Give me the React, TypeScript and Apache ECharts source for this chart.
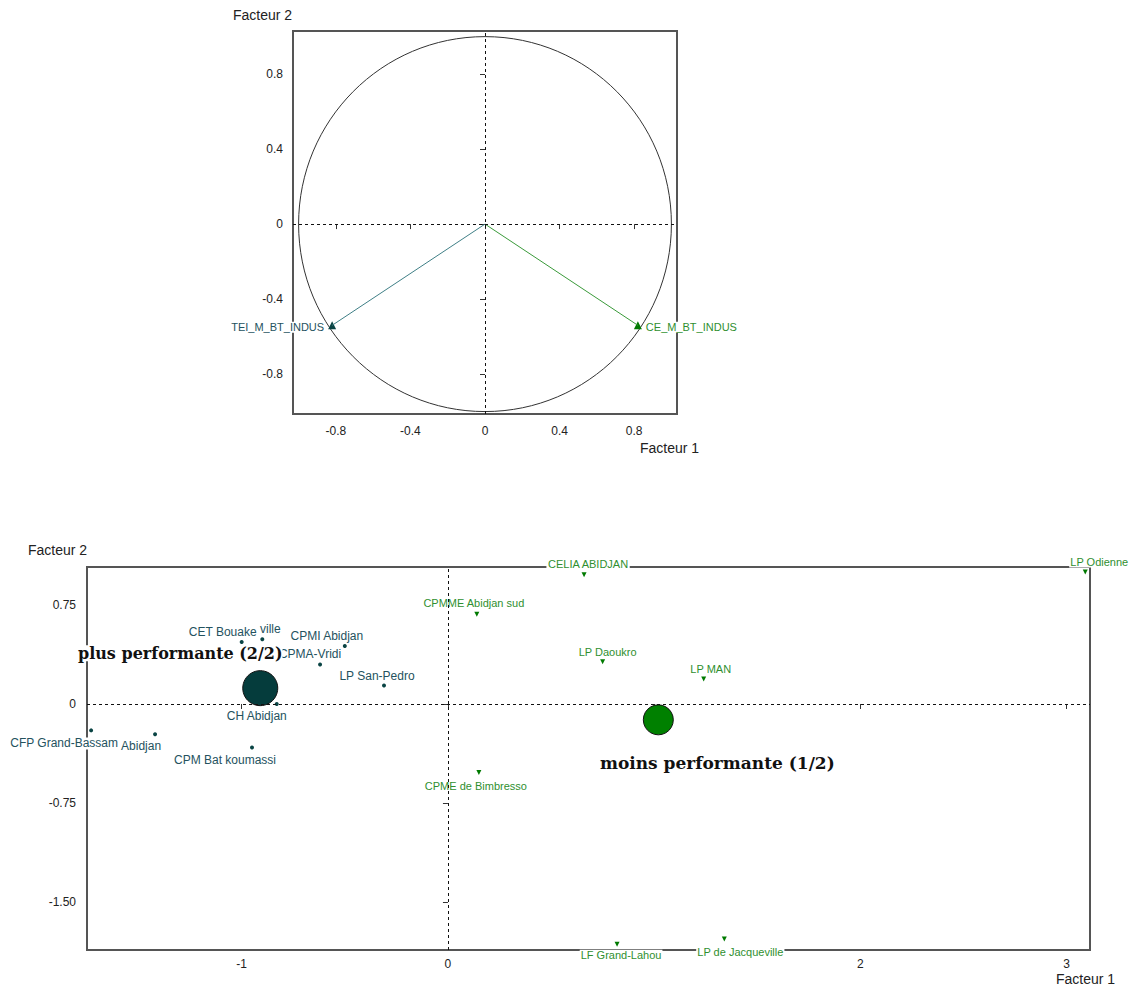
import React, { useEffect, useRef } from "react";
import * as echarts from "echarts";

// ---- Data: correlation circle (variables) ----
const varNames = ["TEI_M_BT_INDUS", "CE_M_BT_INDUS"];
const varF1 = [-0.82, 0.82];
const varF2 = [-0.54, -0.54];

// ---- Data: class 2 (plus performante) individuals ----
const class2Names = ["CFP Grand-Bassam", "Abidjan", "CPM Bat koumassi", "CH Abidjan", "CET Bouake", "ville", "CPMI Abidjan", "CPMA-Vridi", "LP San-Pedro"];
const class2F1 = [-1.73, -1.42, -0.95, -0.83, -1.0, -0.9, -0.5, -0.62, -0.31];
const class2F2 = [-0.2, -0.23, -0.33, 0.0, 0.47, 0.49, 0.44, 0.3, 0.14];

// ---- Data: class 1 (moins performante) individuals ----
const class1Names = ["CELIA ABIDJAN", "CPMME Abidjan sud", "LP Daoukro", "LP MAN", "LP Odienne", "CPME de Bimbresso", "LF Grand-Lahou", "LP de Jacqueville"];
const class1F1 = [0.66, 0.14, 0.75, 1.24, 3.09, 0.15, 0.82, 1.34];
const class1F2 = [0.98, 0.68, 0.32, 0.19, 1.0, -0.52, -1.82, -1.78];

// ---- Data: class centroids ----
const centroidNames = ["moins performante (1/2)", "plus performante (2/2)"];
const centroidF1 = [1.02, -0.91];
const centroidF2 = [-0.12, 0.12];

// ---- Tick values ----
const topTicks = [-0.8, -0.4, 0, 0.4, 0.8];
const bottomXTicks = [-1, 0, 1, 2, 3];
const bottomXTickLabels = [-1, 0, 2, 3]; // "1" is hidden under a point label in the reference
const bottomYTicks = [-1.5, -0.75, 0, 0.75];

// ---- Label placement (style only): offset from point to label centre ----
const labelOffsets: Record<string, [number, number]> = {
  "CFP Grand-Bassam": [-27, 13],
  "Abidjan": [-14, 12],
  "CPM Bat koumassi": [-27, 12],
  "CH Abidjan": [-20, 12],
  "CET Bouake": [-19, -10],
  "ville": [8, -10],
  "CPMI Abidjan": [-18, -10],
  "CPMA-Vridi": [-10, -10],
  "LP San-Pedro": [-7, -10],
  "CELIA ABIDJAN": [4, -11],
  "CPMME Abidjan sud": [-3, -11],
  "LP Daoukro": [5, -10],
  "LP MAN": [7, -10],
  "LP Odienne": [14, -10],
  "CPME de Bimbresso": [-3, 13],
  "LF Grand-Lahou": [4, 11],
  "LP de Jacqueville": [16, 13],
  "moins performante (1/2)": [59, 43],
  "plus performante (2/2)": [-80, -35],
};

const FONT = "'Liberation Sans', Arial, sans-serif";
const DARK = "#0a4444";
const DARK_TEXT = "#24525e";
const GREEN = "#007a00";
const GREEN_TEXT = "#2f8f2f";

function pointItems(names: string[], xs: number[], ys: number[], color: string, fontSize: number) {
  return names.map((n, i) => ({
    name: n,
    value: [xs[i], ys[i]],
    label: {
      show: true,
      position: "inside",
      offset: labelOffsets[n] || [0, -10],
      formatter: "{b}",
      color,
      fontSize,
      fontFamily: FONT,
      backgroundColor: "#fff",
      padding: [0, 1],
      textBorderWidth: 0,
    },
  }));
}

export default function App() {
  const ref = useRef<HTMLDivElement>(null);
  useEffect(() => {
    if (!ref.current) return;
    const chart = echarts.init(ref.current, undefined, { renderer: "svg" });
    const axisLabelStyle = { color: "#222", fontSize: 12, fontFamily: FONT };
    const zeroLine = {
      silent: true,
      symbol: "none",
      label: { show: false },
      lineStyle: { type: [3, 3], color: "#111", width: 1 },
      data: [{ xAxis: 0 }, { yAxis: 0 }],
    };
    const fmt1 = (v: number) => (Math.abs(v) < 1e-9 ? "0" : v.toFixed(1));
    const fmt2 = (v: number) => (Math.abs(v) < 1e-9 ? "0" : v.toFixed(2));

    const option: any = {
      animation: false,
      grid: [
        { left: 293, top: 31, width: 384, height: 383, show: true, borderColor: "#555", borderWidth: 2, backgroundColor: "transparent" },
        { left: 87, top: 567, width: 1003, height: 383, show: true, borderColor: "#555", borderWidth: 2, backgroundColor: "transparent" },
      ],
      xAxis: [
        {
          gridIndex: 0, type: "value", min: -1.03, max: 1.03,
          splitLine: { show: false }, axisLine: { show: false },
          axisTick: { show: true, length: 5, customValues: topTicks, lineStyle: { color: "#333" } },
          axisLabel: { ...axisLabelStyle, margin: 11, customValues: topTicks, formatter: fmt1 },
        },
        {
          gridIndex: 1, type: "value", min: -1.75, max: 3.113,
          splitLine: { show: false }, axisLine: { show: false },
          axisTick: { show: true, length: 5, customValues: bottomXTicks, lineStyle: { color: "#333" } },
          axisLabel: { ...axisLabelStyle, margin: 8, customValues: bottomXTickLabels, formatter: (v: number) => String(v) },
        },
      ],
      yAxis: [
        {
          gridIndex: 0, type: "value", min: -1.013, max: 1.03,
          splitLine: { show: false }, axisLine: { show: false },
          axisTick: { show: true, length: 5, customValues: topTicks, lineStyle: { color: "#333" } },
          axisLabel: { ...axisLabelStyle, margin: 10, customValues: topTicks, formatter: fmt1 },
        },
        {
          gridIndex: 1, type: "value", min: -1.864, max: 1.038,
          splitLine: { show: false }, axisLine: { show: false },
          axisTick: { show: true, length: 5, customValues: bottomYTicks, lineStyle: { color: "#333" } },
          axisLabel: { ...axisLabelStyle, margin: 11, customValues: bottomYTicks, formatter: fmt2 },
        },
      ],
      graphic: [
        { type: "text", left: 233, top: 8, style: { text: "Facteur 2", font: `14px ${FONT}`, fill: "#222" } },
        { type: "text", left: 640, top: 441, style: { text: "Facteur 1", font: `14px ${FONT}`, fill: "#222" } },
        { type: "text", left: 28, top: 543, style: { text: "Facteur 2", font: `14px ${FONT}`, fill: "#222" } },
        { type: "text", left: 1056, top: 972, style: { text: "Facteur 1", font: `14px ${FONT}`, fill: "#222" } },
      ],
      series: [
        // unit circle (radius 1 around origin) drawn through the axis scales
        {
          type: "custom",
          xAxisIndex: 0, yAxisIndex: 0,
          data: [[0, 0, 1]],
          silent: true,
          renderItem: (_params: any, api: any) => {
            const r = api.value(2);
            const c = api.coord([api.value(0), api.value(1)]);
            const e = api.coord([api.value(0) + r, api.value(1) + r]);
            return {
              type: "ellipse",
              shape: { cx: c[0], cy: c[1], rx: Math.abs(e[0] - c[0]), ry: Math.abs(e[1] - c[1]) },
              style: { fill: "none", stroke: "#333", lineWidth: 1 },
            };
          },
          markLine: zeroLine,
        },
        // vectors
        ...varNames.map((n, i) => ({
          type: "line",
          name: n,
          xAxisIndex: 0, yAxisIndex: 0,
          symbol: "none",
          data: [[0, 0], [varF1[i], varF2[i]]],
          lineStyle: { color: i === 0 ? "#3f7f86" : "#3a9a3a", width: 1 },
          silent: true,
        })),
        {
          type: "scatter",
          xAxisIndex: 0, yAxisIndex: 0,
          symbol: "triangle",
          symbolSize: 8,
          data: varNames.map((n, i) => ({
            name: n,
            value: [varF1[i], varF2[i]],
            itemStyle: { color: i === 0 ? DARK : GREEN, opacity: 1 },
            label: {
              show: true,
              position: i === 0 ? "left" : "right",
              distance: 4,
              offset: [0, 2],
              formatter: "{b}",
              color: i === 0 ? DARK_TEXT : GREEN_TEXT,
              fontSize: 11,
              fontFamily: FONT,
              backgroundColor: "#fff",
            },
          })),
        },
        // bottom plane: class 2 individuals
        {
          type: "scatter",
          xAxisIndex: 1, yAxisIndex: 1,
          symbol: "circle",
          symbolSize: 4,
          itemStyle: { color: DARK, opacity: 1 },
          data: pointItems(class2Names, class2F1, class2F2, DARK_TEXT, 12),
          markLine: zeroLine,
        },
        // class 1 individuals
        {
          type: "scatter",
          xAxisIndex: 1, yAxisIndex: 1,
          symbol: "triangle",
          symbolRotate: 180,
          symbolSize: 5,
          itemStyle: { color: GREEN, opacity: 1 },
          data: pointItems(class1Names, class1F1, class1F2, GREEN_TEXT, 11),
        },
        // centroids
        {
          type: "scatter",
          xAxisIndex: 1, yAxisIndex: 1,
          symbol: "circle",
          data: centroidNames.map((n, i) => ({
            name: n,
            value: [centroidF1[i], centroidF2[i]],
            symbolSize: i === 0 ? 30 : 35,
            itemStyle: { color: i === 0 ? "#008000" : "#053c3c", borderColor: "#111", borderWidth: 1, opacity: 1 },
            label: {
              show: true,
              position: "inside",
              offset: labelOffsets[n],
              formatter: "{b}",
              color: "#111",
              fontSize: i === 0 ? 17 : 16,
              fontWeight: "bold",
              fontFamily: "'DejaVu Serif', serif",
              backgroundColor: "#fff",
              textBorderWidth: 0,
            },
          })),
        },
      ],
    };
    chart.setOption(option);
    return () => chart.dispose();
  }, []);
  return <div ref={ref} style={{ position: "absolute", left: 0, top: 0, width: 1131, height: 989 }} />;
}
